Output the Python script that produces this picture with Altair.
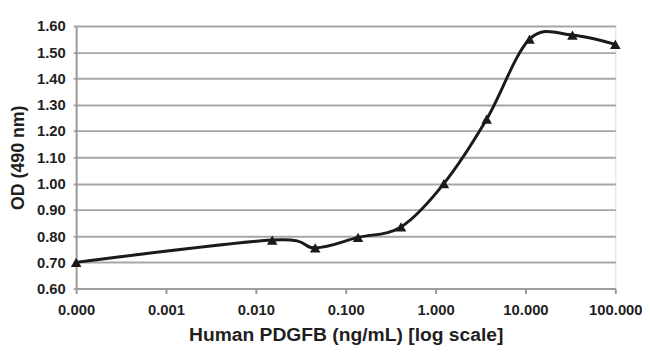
import altair as alt
import pandas as pd

conc = [0.0001, 0.0152, 0.0457, 0.137, 0.412, 1.235, 3.70, 11.1, 33.3, 100.0]
od = [0.70, 0.785, 0.755, 0.795, 0.835, 1.00, 1.245, 1.55, 1.565, 1.53]
x_ticks = [0.0001, 0.001, 0.01, 0.1, 1, 10, 100]
y_ticks = [0.6, 0.7, 0.8, 0.9, 1.0, 1.1, 1.2, 1.3, 1.4, 1.5, 1.6]

df = pd.DataFrame({"conc": conc, "od": od})

FONT = "Liberation Sans"
TXT = "#1f1f1f"

x = alt.X(
    "conc:Q",
    scale=alt.Scale(type="log", domain=[0.0001, 100], nice=False),
    axis=alt.Axis(
        values=x_ticks, format=".3f", title="Human PDGFB (ng/mL) [log scale]",
        grid=False, domainColor="#9a9a9a", domainWidth=2, tickColor="#9a9a9a",
        tickWidth=2, tickSize=5, labelFont=FONT, labelFontWeight="bold",
        labelFontSize=15, labelColor=TXT, labelPadding=9, labelFlush=False,
        labelOverlap=False, titleFont=FONT,
        titleFontWeight="bold", titleFontSize=19.5, titleColor=TXT, titlePadding=9,
    ),
)
y = alt.Y(
    "od:Q",
    scale=alt.Scale(domain=[0.6, 1.6], nice=False, zero=False),
    axis=alt.Axis(
        values=y_ticks, format=".2f", title="OD (490 nm)", grid=True,
        gridColor="#a6a6a6", gridWidth=2, domainColor="#9a9a9a", domainWidth=2,
        tickColor="#a6a6a6", tickWidth=2, tickSize=3, labelFont=FONT,
        labelFontWeight="bold", labelFontSize=15, labelColor=TXT, labelPadding=8,
        titleFont=FONT, titleFontWeight="bold", titleFontSize=18, titleColor=TXT,
        titlePadding=9,
    ),
)

line = alt.Chart(df).mark_line(
    interpolate="cardinal", color="#1a1a1a", strokeWidth=3
).encode(x=x, y=y)
pts = alt.Chart(df).mark_point(
    shape="triangle-up", filled=True, color="#1a1a1a", size=115, opacity=1
).encode(x=x, y=y)

chart = (
    alt.layer(line, pts)
    .properties(
        width=546, height=266,
        autosize=alt.AutoSizeParams(type="none"),
        padding={"left": 69, "top": 16, "right": 27, "bottom": 64},
    )
    .configure_view(stroke=None)
    .configure(background="white")
)

chart.save("out.html", embed_options={"renderer": "svg", "actions": False})
